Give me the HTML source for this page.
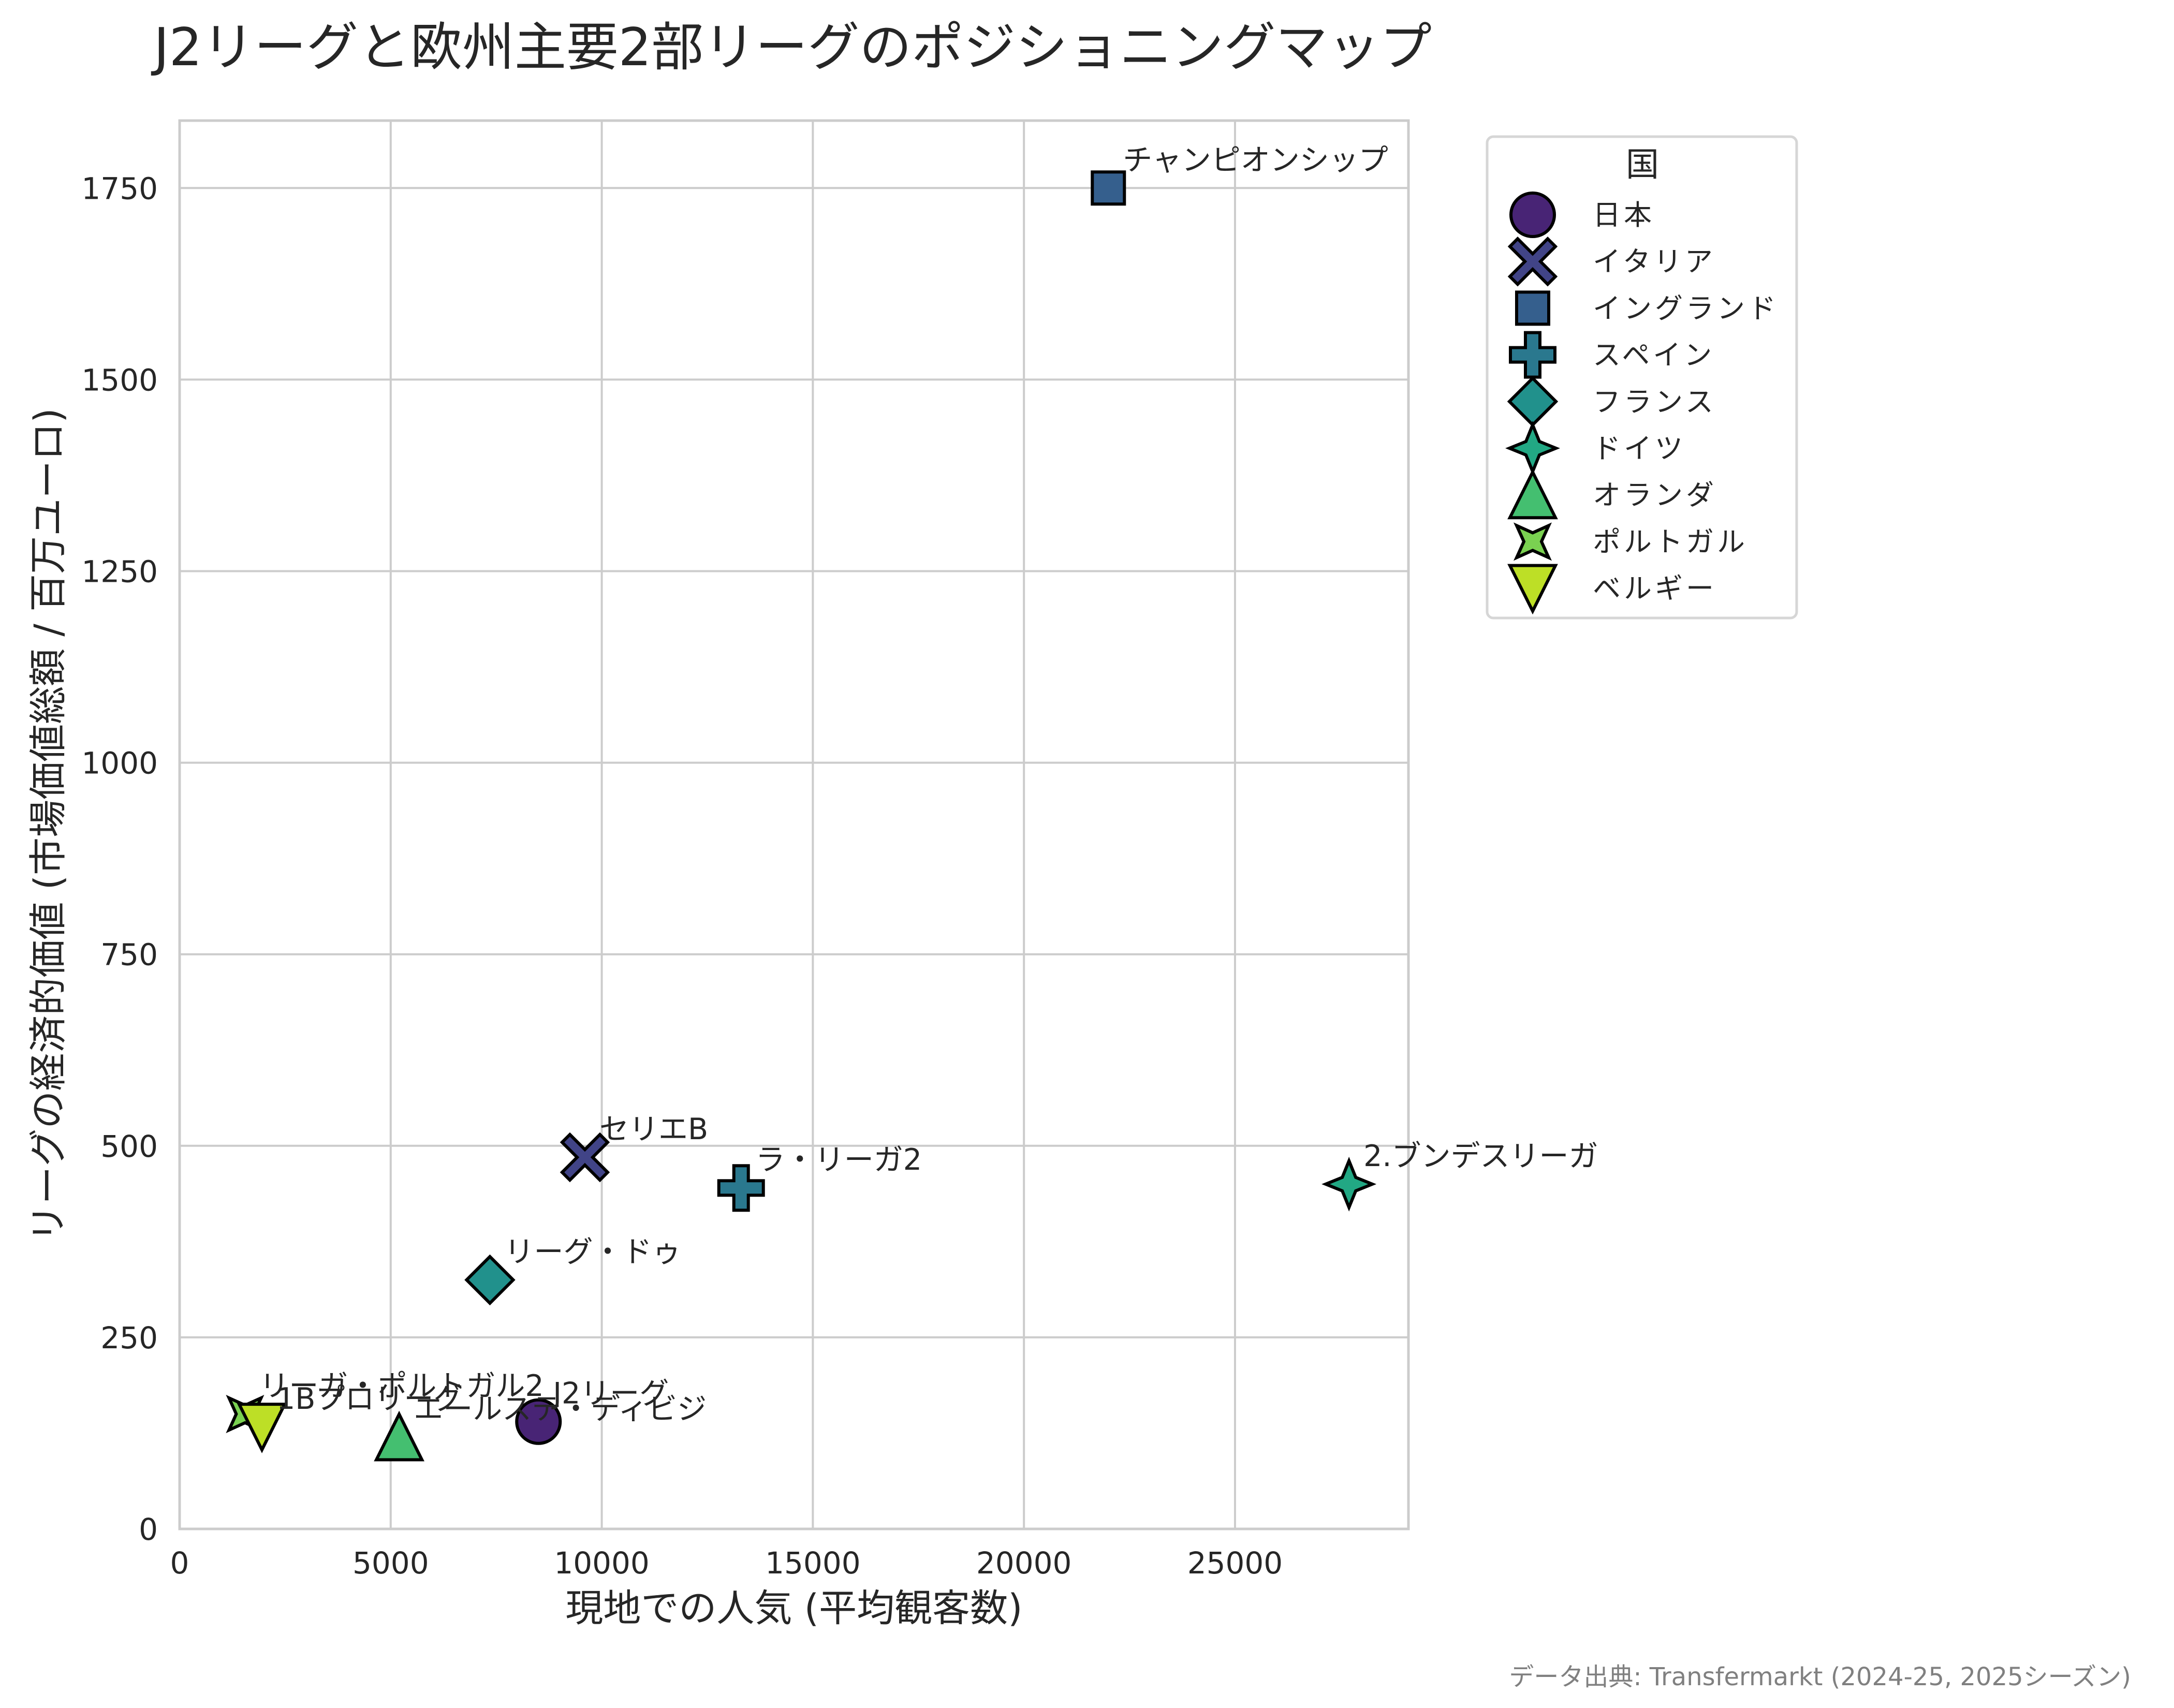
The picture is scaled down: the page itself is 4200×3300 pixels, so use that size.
<!DOCTYPE html>
<html><head><meta charset="utf-8"><style>
html,body{margin:0;padding:0;background:#fff}
svg{display:block}
text{font-family:"DejaVu Sans","Noto Sans CJK JP",sans-serif;fill:#262626}
</style></head><body>
<svg id="chart" width="4200" height="3300" viewBox="0 0 4200 3300">
<rect width="4200" height="3300" fill="#fff"/>
<text x="297" y="126" font-size="100.5">J2リーグと欧州主要2部リーグのポジショニングマップ</text>
<g id="grid"></g>
<g id="axes"></g>
<g id="marks"></g>
<g id="labels"></g>
<g id="legend"></g>
<text x="1534" y="3132" font-size="73" text-anchor="middle">現地での人気 (平均観客数)</text>
<text transform="translate(118,1594) rotate(-90)" font-size="73" text-anchor="middle">リーグの経済的価値 (市場価値総額 / 百万ユーロ)</text>
<text x="4117" y="3256" font-size="48" text-anchor="end" style="fill:#808080">データ出典: Transfermarkt (2024-25, 2025シーズン)</text>
</svg>
<script>
const countries = ["日本","イタリア","イングランド","スペイン","フランス","ドイツ","オランダ","ポルトガル","ベルギー"];
const leagues = ["J2リーグ","セリエB","チャンピオンシップ","ラ・リーガ2","リーグ・ドゥ","2.ブンデスリーガ","エールステ・ディビジ","リーガ・ポルトガル2","1Bプロリーグ"];
const attendance = [8500,9600,22000,13300,7350,27700,5200,1550,1950];
const marketValue = [140,485,1750,445,325,450,120,150,133];
const colors = ["#482475","#414487","#355f8d","#2a788e","#21918c","#22a884","#44bf70","#7ad151","#bddf26"];
const shapes = ["circle","x","square","plus","diamond","star4","triup","star4r","tridown"];
const xTicks = [0,5000,10000,15000,20000,25000];
const yTicks = [0,250,500,750,1000,1250,1500,1750];

const NS="http://www.w3.org/2000/svg";
const L=347,R=2721,T=233,B=2954,XMAX=29108,YMAX=1838;
const sx=v=>L+v/XMAX*(R-L);
const sy=v=>B-v/YMAX*(B-T);
function mk(tag,attrs,parent){const e=document.createElementNS(NS,tag);for(const k in attrs)e.setAttribute(k,attrs[k]);parent.appendChild(e);return e;}
const grid=document.getElementById('grid'),axes=document.getElementById('axes');
xTicks.forEach(t=>{
  const l=mk('line',{x1:sx(t),x2:sx(t),y1:T,y2:B,stroke:'#cccccc','stroke-width':4},grid);
  
  
  const tx=mk('text',{x:sx(t),y:3040,'font-size':58,'text-anchor':'middle'},axes);
  tx.textContent=t;
  
  
});
yTicks.forEach(t=>{
  const l=mk('line',{x1:L,x2:R,y1:sy(t),y2:sy(t),stroke:'#cccccc','stroke-width':4},grid);
  
  
  const tx=mk('text',{x:305,y:sy(t)+21,'font-size':58,'text-anchor':'end'},axes);
  tx.textContent=t;
  
  
});
const frame=mk('rect',{x:L,y:T,width:R-L,height:B-T,fill:'none',stroke:'#cccccc','stroke-width':5},axes);



function shapeEl(shape,cx,cy,fill,parent){
  const st={fill:fill,stroke:'#000','stroke-width':6,'stroke-linejoin':'miter'};
  let e;
  const P=pts=>pts.map(p=>(cx+p[0])+','+(cy+p[1])).join(' ');
  if(shape==='circle'){e=mk('circle',Object.assign({cx:cx,cy:cy,r:42},st),parent);}
  else if(shape==='square'){e=mk('rect',Object.assign({x:cx-31,y:cy-31,width:62,height:62},st),parent);}
  else if(shape==='x'){const a=15,b=44;e=mk('polygon',Object.assign({points:P([[-b,-b+a],[-b+a,-b],[0,-a],[b-a,-b],[b,-b+a],[a,0],[b,b-a],[b-a,b],[0,a],[-b+a,b],[-b,b-a],[-a,0]])},st),parent);}
  else if(shape==='plus'){const a=14,b=43;e=mk('polygon',Object.assign({points:P([[-a,-b],[a,-b],[a,-a],[b,-a],[b,a],[a,a],[a,b],[-a,b],[-a,a],[-b,a],[-b,-a],[-a,-a]])},st),parent);}
  else if(shape==='diamond'){e=mk('polygon',Object.assign({points:P([[0,-45],[45,0],[0,45],[-45,0]])},st),parent);}
  else if(shape==='star4'){const b=45,a=13;e=mk('polygon',Object.assign({points:P([[0,-b],[a,-a],[b,0],[a,a],[0,b],[-a,a],[-b,0],[-a,-a]])},st),parent);}
  else if(shape==='star4r'){const b=31,a=17;e=mk('polygon',Object.assign({points:P([[-b,-b],[0,-a],[b,-b],[a,0],[b,b],[0,a],[-b,b],[-a,0]])},st),parent);}
  else if(shape==='triup'){e=mk('polygon',Object.assign({points:P([[0,-44],[44,44],[-44,44]])},st),parent);}
  else if(shape==='tridown'){e=mk('polygon',Object.assign({points:P([[0,44],[44,-44],[-44,-44]])},st),parent);}
  return e;
}
const marks=document.getElementById('marks'),labels=document.getElementById('labels');
attendance.forEach((v,i)=>{
  const cx=sx(v),cy=sy(marketValue[i]);
  const e=shapeEl(shapes[i],cx,cy,colors[i],marks);
  
  
  const t=mk('text',{x:cx+28,y:cy-35,'font-size':57},labels);
  t.textContent=leagues[i];
  
  
});
const lg=document.getElementById('legend');
const box=mk('rect',{x:2873,y:264,width:598,height:930,rx:12,fill:'#fff',stroke:'#d6d6d6','stroke-width':5},lg);


const lt=mk('text',{x:3173,y:340,'font-size':64,'text-anchor':'middle'},lg);
lt.textContent='国';


countries.forEach((c,i)=>{
  const y=415+i*90.2;
  const g=mk('g',{},lg);
  
  
  shapeEl(shapes[i],2961,y,colors[i],g);
  const t=mk('text',{x:3077,y:y+19,'font-size':54,'letter-spacing':6},g);
  t.textContent=c;
});
</script>
</body></html>
